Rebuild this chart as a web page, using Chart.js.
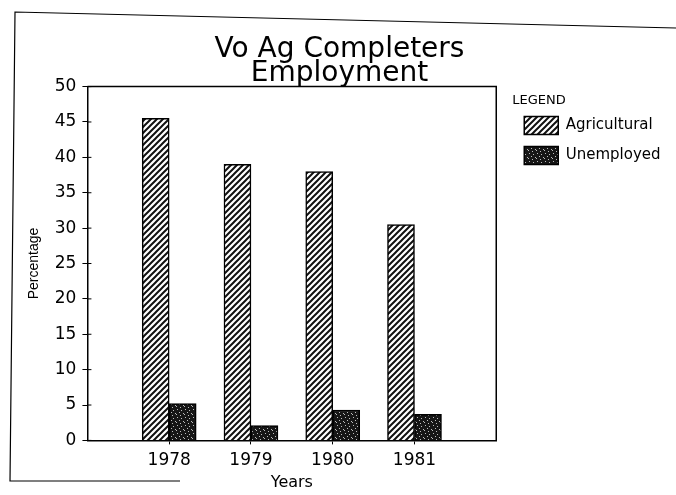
<!DOCTYPE html>
<html>
<head>
<meta charset="utf-8">
<script src="https://cdn.jsdelivr.net/npm/chart.js@4.4.0/dist/chart.umd.min.js"></script>
<style>
  html, body { margin: 0; padding: 0; background: #fff; }
  #wrap { width: 676px; height: 495px; }
</style>
</head>
<body>
<div id="wrap"><canvas id="bar-chart" width="676" height="495"></canvas></div>
<script>
// chart data
var years = ['1978', '1979', '1980', '1981'];
var agricultural = [45.5, 39, 38, 30.5];
var unemployed = [5.2, 2.1, 4.3, 3.7];
var yTicks = [0, 5, 10, 15, 20, 25, 30, 35, 40, 45, 50];

document.addEventListener("DOMContentLoaded", function() {
    var ctx = document.getElementById('bar-chart').getContext('2d');

    // diagonal hatch fill
    function hatchPattern() {
        var c = document.createElement('canvas');
        c.width = 6; c.height = 6;
        var g = c.getContext('2d');
        g.fillStyle = '#fff';
        g.fillRect(0, 0, 6, 6);
        g.strokeStyle = '#111';
        g.lineWidth = 2;
        g.beginPath();
        g.moveTo(-1, 7); g.lineTo(7, -1);
        g.moveTo(-4, 4); g.lineTo(4, -4);
        g.moveTo(2, 10); g.lineTo(10, 2);
        g.stroke();
        return ctx.createPattern(c, 'repeat');
    }

    // dark stipple fill
    function stipplePattern() {
        var c = document.createElement('canvas');
        c.width = 8; c.height = 8;
        var g = c.getContext('2d');
        g.fillStyle = '#161616';
        g.fillRect(0, 0, 8, 8);
        g.fillStyle = '#bbb';
        var dots = [[1, 1], [5, 2], [3, 4], [7, 5], [0, 6], [4, 7]];
        dots.forEach(function(d) { g.fillRect(d[0], d[1], 1, 1); });
        return ctx.createPattern(c, 'repeat');
    }

    // box around the plot, inner tick marks and the scanned page frame
    var framePlugin = {
        id: 'frame',
        afterLayout: function(chart) {
            // move the legend a bit right of the plot box
            var lg = chart.legend;
            var w = lg.width;
            lg.left = chart.chartArea.right + 16;
            lg.right = lg.left + w;
        },
        afterDraw: function(chart) {
            var a = chart.chartArea;
            var c = chart.ctx;
            var y = chart.scales.y;
            c.save();
            c.strokeStyle = '#000';
            c.lineWidth = 1.5;
            c.beginPath();
            c.moveTo(a.left, a.top);
            c.lineTo(a.right, a.top);
            c.lineTo(a.right, a.bottom);
            c.stroke();
            c.lineWidth = 1;
            c.beginPath();
            yTicks.forEach(function(v) {
                var py = y.getPixelForValue(v);
                c.moveTo(a.left, py);
                c.lineTo(a.left + 4, py);
            });
            c.stroke();
            c.lineWidth = 1.2;
            c.beginPath();
            c.moveTo(676, 28);
            c.lineTo(15, 12);
            c.lineTo(10, 481);
            c.lineTo(180, 481);
            c.stroke();
            c.restore();
        }
    };

    function points(values) {
        return values.map(function(v, i) { return { x: i + 1, y: v }; });
    }

    new Chart(ctx, {
        type: 'bar',
        data: {
            datasets: [{
                label: 'Agricultural',
                data: points(agricultural),
                backgroundColor: hatchPattern(),
                borderColor: '#000',
                borderWidth: 1.5,
                barThickness: 27
            }, {
                label: 'Unemployed',
                data: points(unemployed),
                backgroundColor: stipplePattern(),
                borderColor: '#000',
                borderWidth: 1.5,
                barThickness: 27
            }]
        },
        options: {
            responsive: false,
            animation: false,
            layout: { padding: { top: 0, left: 26, right: 23, bottom: 3 } },
            plugins: {
                title: {
                    display: true,
                    text: ['Vo Ag Completers', 'Employment'],
                    color: '#000',
                    font: { family: 'DejaVu Sans', size: 28, weight: 'normal', lineHeight: 0.85 },
                    padding: { top: 38, bottom: 1 }
                },
                legend: {
                    position: 'right',
                    align: 'start',
                    title: {
                        display: true,
                        text: 'LEGEND',
                        position: 'start',
                        color: '#000',
                        font: { family: 'DejaVu Sans', size: 13 },
                        padding: { top: 94, bottom: -5 }
                    },
                    labels: {
                        color: '#000',
                        font: { family: 'DejaVu Sans', size: 15 },
                        boxWidth: 34,
                        boxHeight: 18,
                        padding: 12
                    }
                },
                tooltip: { enabled: false }
            },
            scales: {
                x: {
                    type: 'linear',
                    min: 0,
                    max: years.length + 1,
                    offset: false,
                    afterBuildTicks: function(axis) {
                        axis.ticks = years.map(function(y, i) { return { value: i + 1 }; });
                    },
                    ticks: {
                        color: '#000',
                        font: { family: 'DejaVu Sans', size: 17 },
                        padding: 6,
                        callback: function(v) { return years[v - 1] || ''; }
                    },
                    grid: { drawOnChartArea: false, offset: false, tickLength: 4, color: '#000' },
                    border: { color: '#000', width: 1.5 },
                    title: {
                        display: true,
                        text: 'Years',
                        color: '#000',
                        font: { family: 'DejaVu Sans', size: 16 },
                        padding: { top: -4, bottom: 0 }
                    }
                },
                y: {
                    min: 0,
                    max: 50,
                    afterBuildTicks: function(axis) {
                        axis.ticks = yTicks.map(function(v) { return { value: v }; });
                    },
                    ticks: {
                        color: '#000',
                        font: { family: 'DejaVu Sans', size: 17 },
                        padding: 6
                    },
                    grid: { drawOnChartArea: false, tickLength: 5, color: '#000' },
                    border: { color: '#000', width: 1.5 },
                    title: {
                        display: true,
                        text: 'Percentage',
                        color: '#000',
                        font: { family: 'Liberation Sans', size: 14 },
                        padding: { top: 0, bottom: 6 }
                    }
                }
            }
        },
        plugins: [framePlugin]
    });
});
</script>
</body>
</html>
